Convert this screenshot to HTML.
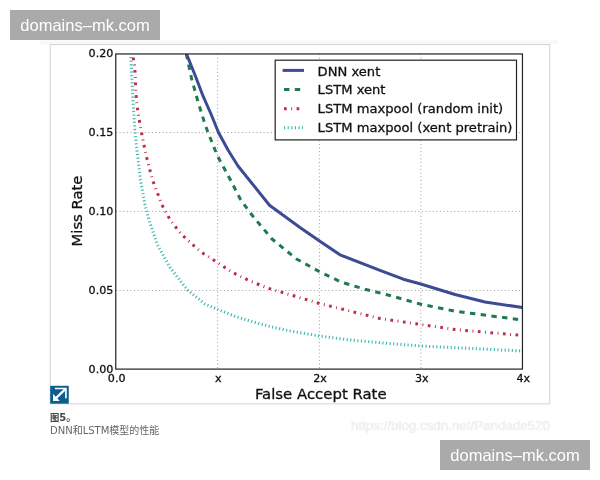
<!DOCTYPE html>
<html lang="zh">
<head>
<meta charset="utf-8">
<title>DNN和LSTM模型的性能</title>
<style>
html,body{margin:0;padding:0;background:#fff;}
body{width:600px;height:480px;position:relative;overflow:hidden;font-family:"Liberation Sans","Noto Sans CJK SC",sans-serif;}
.wm{position:absolute;width:150px;height:30px;background:#aaaaaa;color:#fff;font-size:16.5px;line-height:30px;text-align:center;white-space:nowrap;}
#wm1{left:10px;top:10px;}
#wm2{left:440px;top:440px;}
#chart{position:absolute;left:0;top:0;width:600px;height:480px;}
.cap{position:absolute;left:50px;font-family:"DejaVu Sans","Liberation Sans","Noto Sans CJK SC",sans-serif;font-size:10px;line-height:14px;white-space:nowrap;}
#cap1{top:410.5px;color:#444;font-weight:bold;}
#cap2{top:423.5px;color:#666;}
#cap1 .zh{font-size:9.3px;}
#csdn{position:absolute;left:351px;top:416.6px;font-size:13.35px;line-height:18px;color:#f4f4f4;text-shadow:0 0 1px #d4d4d4;white-space:nowrap;}
svg text{font-family:"DejaVu Sans","Liberation Sans",sans-serif;fill:#111;stroke:#111;stroke-width:0.3px;}
</style>
</head>
<body>
<svg id="chart" width="600" height="480" viewBox="0 0 600 480">
  <rect x="40" y="40.3" width="518" height="4" fill="#f8f8f8"/>
  <rect x="50.2" y="44.6" width="499.5" height="359.2" fill="#fff" stroke="#d4d4d4" stroke-width="1"/>
  <g stroke="#777" stroke-width="0.8" stroke-dasharray="0.9,2.7" fill="none">
    <line x1="217.6" y1="54" x2="217.6" y2="369"/>
    <line x1="319.4" y1="54" x2="319.4" y2="369"/>
    <line x1="420.9" y1="54" x2="420.9" y2="369"/>
    <line x1="116" y1="132.6" x2="523" y2="132.6"/>
    <line x1="116" y1="211.4" x2="523" y2="211.4"/>
    <line x1="116" y1="290.5" x2="523" y2="290.5"/>
  </g>
  <clipPath id="clip"><rect x="116" y="54" width="406.5" height="315"/></clipPath>
  <g clip-path="url(#clip)" fill="none" stroke-linejoin="round">
    <path id="c-cyan" stroke="#42bcb2" stroke-width="3" stroke-dasharray="1.2,2.4" d="M130.8,57 L132,80 L133.2,105 L135,132 L137.5,155 L140.5,180 L145,205 L149,220 L157.5,245 L170,267.5 L187.5,290 L205,304 L217.5,309.3 L235,316.3 L250,321 L270,326.5 L290,331 L319.5,336 L350,340 L390,343.6 L420.75,346 L522.5,351"/>
    <path id="c-red" stroke="#bb2e44" stroke-width="3" stroke-dasharray="2.7,4.5,0.9,4.5" d="M133.2,57.5 L134.7,65.8 L135.3,78.3 L135.8,90.8 L136.7,103.7 L138.7,116.7 L141,130 L146,155 L152.5,180 L162,205 L170.5,220.5 L182,235 L201,252 L217.5,262.5 L232.5,272.5 L250,281 L267.5,288 L319.5,303.5 L380,318.5 L420.75,324.5 L455,329.5 L522.5,335.5"/>
    <path id="c-green" stroke="#1f7a4d" stroke-width="3" stroke-dasharray="5.4,5.4" d="M186.3,54 L191.7,79.2 L195,90.8 L197.5,100 L200.8,110.8 L204.2,121.7 L208,132.5 L217.5,156 L230.5,180 L240.3,199 L249.3,211.7 L256,220 L272,239 L296.5,259 L319.2,271.5 L341.7,282.3 L365,289.2 L390,295.5 L420.75,304.2 L455,311.2 L522.5,320"/>
    <path id="c-blue" stroke="#3c4b93" stroke-width="3" d="M186.5,54 L195,75 L203.3,96.7 L211,114 L218.5,132.5 L228,150 L238,166 L269.5,205.3 L300,227.5 L319.5,240.9 L340,254.8 L380,270.3 L403.3,279.2 L420.75,284 L455,294.5 L485,302 L522.5,307.5"/>
  </g>
  <rect x="115.75" y="53.95" width="406.7" height="315.15" fill="none" stroke="#222" stroke-width="1.2"/>
  <!-- legend -->
  <rect x="275.2" y="60.2" width="241.3" height="79.7" fill="#fff" stroke="#222" stroke-width="1.2"/>
  <g fill="none">
    <line x1="282.6" y1="70.4" x2="304" y2="70.4" stroke="#3c4b93" stroke-width="3"/>
    <line x1="284" y1="89.6" x2="303" y2="89.6" stroke="#1f7a4d" stroke-width="3" stroke-dasharray="5.4,5.4"/>
    <line x1="284" y1="108.8" x2="303" y2="108.8" stroke="#bb2e44" stroke-width="3" stroke-dasharray="2.7,4.5,0.9,4.5"/>
    <line x1="284" y1="127.7" x2="303" y2="127.7" stroke="#42bcb2" stroke-width="3" stroke-dasharray="1.2,2.4"/>
  </g>
  <g font-size="13.1">
    <text x="317.6" y="75.6">DNN xent</text>
    <text x="317.6" y="94.2">LSTM xent</text>
    <text x="317.6" y="113.1">LSTM maxpool (random init)</text>
    <text x="317.6" y="131.8">LSTM maxpool (xent pretrain)</text>
  </g>
  <g font-size="11.1" text-anchor="end">
    <text x="113.3" y="57">0.20</text>
    <text x="113.3" y="135.8">0.15</text>
    <text x="113.3" y="214.7">0.10</text>
    <text x="113.3" y="293.7">0.05</text>
    <text x="113.3" y="372.5">0.00</text>
  </g>
  <g font-size="11.1" text-anchor="middle">
    <text x="116.7" y="381.8">0.0</text>
    <text x="218.3" y="381.8">x</text>
    <text x="320.1" y="381.8">2x</text>
    <text x="421.7" y="381.8">3x</text>
    <text x="523.3" y="381.8">4x</text>
  </g>
  <text x="320.75" y="399.3" font-size="14.9" text-anchor="middle">False Accept Rate</text>
  <text transform="translate(81.6,211) rotate(-90)" font-size="14.8" text-anchor="middle">Miss Rate</text>
  <!-- expand icon -->
  <g id="icon" transform="translate(50.2,385.8)">
    <rect x="0" y="0" width="18.55" height="17.9" fill="#0e5d8d"/>
    <g fill="none" stroke="#f0fbff">
      <polyline points="4.7,2.7 15.7,2.7 15.7,12.5" stroke-width="1.7"/>
      <line x1="15.3" y1="3.1" x2="5" y2="13" stroke-width="2.3"/>
    </g>
    <polygon points="2.8,7.9 2.8,15.2 9.6,15.2" fill="#f0fbff"/>
  </g>
</svg>
<div class="cap" id="cap1"><span class="zh">图</span>5。</div>
<div class="cap" id="cap2">DNN和LSTM模型的性能</div>
<div id="csdn">https://blog.csdn.net/Pandade520</div>
<div class="wm" id="wm1">domains–mk.com</div>
<div class="wm" id="wm2">domains–mk.com</div>
</body>
</html>
